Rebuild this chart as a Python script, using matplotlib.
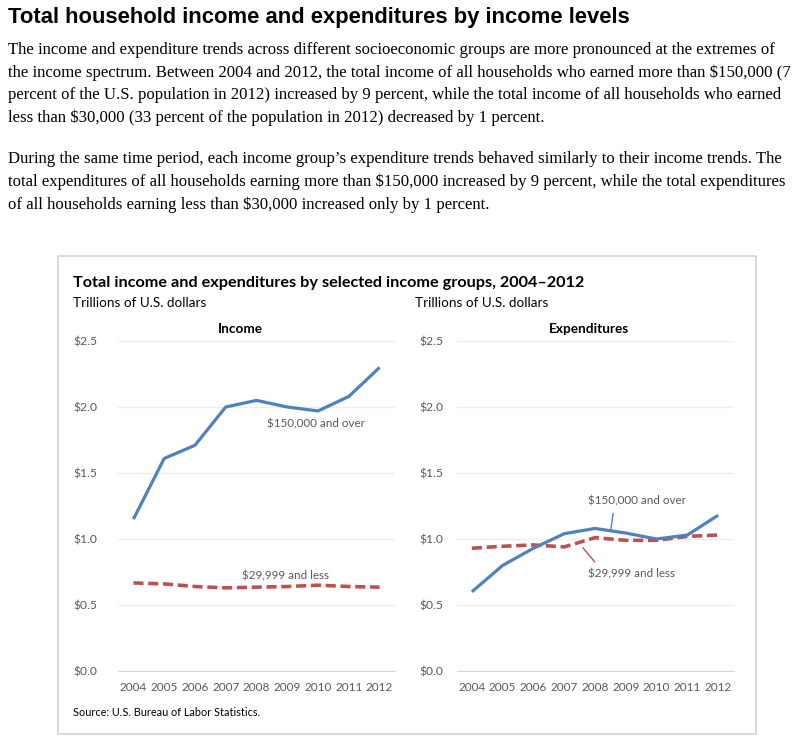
import matplotlib
matplotlib.use("Agg")
import matplotlib.pyplot as plt
from matplotlib.patches import Rectangle

# data (trillions of U.S. dollars)
years = [2004, 2005, 2006, 2007, 2008, 2009, 2010, 2011, 2012]
income_high = [1.15, 1.61, 1.71, 2.00, 2.05, 2.00, 1.97, 2.08, 2.30]
income_low = [0.667, 0.66, 0.64, 0.63, 0.635, 0.64, 0.65, 0.64, 0.635]
exp_high = [0.60, 0.80, 0.93, 1.04, 1.08, 1.045, 1.00, 1.03, 1.18]
exp_low = [0.93, 0.945, 0.955, 0.94, 1.01, 0.99, 0.99, 1.02, 1.03]
yticks = [0.0, 0.5, 1.0, 1.5, 2.0, 2.5]

blue = "#4f81bd"
red = "#c0504d"
grey_txt = "#595959"
chart_font = ["Lato", "DejaVu Sans"]

W, H = 800, 746
fig = plt.figure(figsize=(W / 100, H / 100), dpi=100)


def fx(px):
    return px / W


def fy(py):
    return 1 - py / H


# header text
fig.text(fx(8), fy(18), "Total household income and expenditures by income levels",
         family="Liberation Sans", weight="bold", fontsize=15.8, va="center")
para1 = ["The income and expenditure trends across different socioeconomic groups are more pronounced at the extremes of",
         "the income spectrum. Between 2004 and 2012, the total income of all households who earned more than $150,000 (7",
         "percent of the U.S. population in 2012) increased by 9 percent, while the total income of all households who earned",
         "less than $30,000 (33 percent of the population in 2012) decreased by 1 percent."]
para2 = ["During the same time period, each income group\u2019s expenditure trends behaved similarly to their income trends. The",
         "total expenditures of all households earning more than $150,000 increased by 9 percent, while the total expenditures",
         "of all households earning less than $30,000 increased only by 1 percent."]
for i, line in enumerate(para1):
    fig.text(fx(8), fy(50 + i * 22.7), line, family="Liberation Serif", fontsize=12.1, va="center")
for i, line in enumerate(para2):
    fig.text(fx(8), fy(159 + i * 22.7), line, family="Liberation Serif", fontsize=12.1, va="center")

# chart frame
fig.patches.append(Rectangle((fx(58), fy(734)), fx(756) - fx(58), fy(256) - fy(734),
                             transform=fig.transFigure, fill=False, edgecolor="#d4d4d4", lw=1.2))

fig.text(fx(73), fy(283), "Total income and expenditures by selected income groups, 2004\u20132012",
         family=chart_font, weight="bold", fontsize=11.7, va="center")
fig.text(fx(73), fy(303), "Trillions of U.S. dollars", family=chart_font, fontsize=9.7, va="center")
fig.text(fx(415), fy(303), "Trillions of U.S. dollars", family=chart_font, fontsize=9.7, va="center")
fig.text(fx(73), fy(713), "Source: U.S. Bureau of Labor Statistics.", family=chart_font, fontsize=7.8, va="center")

ax1 = fig.add_axes([fx(118), fy(671), fx(277), 330 / H])
ax2 = fig.add_axes([fx(456.5), fy(671), fx(277), 330 / H])

panels = [(ax1, income_high, income_low, "Income", 240, 21),
          (ax2, exp_high, exp_low, "Expenditures", 589, 13)]
for ax, high, low, name, tx, ypad in panels:
    x = range(len(years))
    ax.plot(x, high, color=blue, lw=2.3, solid_capstyle="butt", zorder=3)
    ax.plot(x, low, color=red, lw=2.6, dashes=(2.8, 1.3), zorder=2)
    ax.set_xlim(-0.5, len(years) - 0.5)
    ax.set_ylim(0, 2.5)
    ax.set_yticks(yticks)
    ax.set_yticklabels([f"${v:.1f}" for v in yticks])
    ax.set_xticks(list(x))
    ax.set_xticklabels([str(y) for y in years])
    ax.grid(axis="y", color="#eeeeee", lw=1)
    ax.set_axisbelow(True)
    for s in ["top", "right", "left"]:
        ax.spines[s].set_visible(False)
    ax.spines["bottom"].set_color("#d9d9d9")
    ax.tick_params(axis="y", length=0, pad=ypad * 0.72, labelcolor=grey_txt, labelsize=8.7)
    ax.tick_params(axis="x", length=0, pad=8, labelcolor=grey_txt, labelsize=8.5)
    for lab in ax.get_xticklabels() + ax.get_yticklabels():
        lab.set_family(chart_font)
    ax.patch.set_alpha(0)
    fig.text(fx(tx), fy(329), name, family=chart_font, weight="bold", fontsize=9.8,
             ha="center", va="center")

# annotations
fig.text(fx(316), fy(424), "$150,000 and over", family=chart_font, fontsize=8.4,
         color=grey_txt, ha="center", va="center")
fig.text(fx(285), fy(576), "$29,999 and less", family=chart_font, fontsize=8.4,
         color=grey_txt, ha="center", va="center")
fig.text(fx(637), fy(501), "$150,000 and over", family=chart_font, fontsize=8.4,
         color=grey_txt, ha="center", va="center")
fig.text(fx(631), fy(574), "$29,999 and less", family=chart_font, fontsize=8.4,
         color=grey_txt, ha="center", va="center")
ax2.annotate("", xy=(4.5, exp_high[4] - 0.035), xytext=(4.6, 1.215),
             arrowprops=dict(arrowstyle="-", color=blue, lw=1))
ax2.annotate("", xy=(3.55, 0.95), xytext=(4.05, 0.81),
             arrowprops=dict(arrowstyle="-", color=red, lw=1))

fig.savefig("out.png", dpi=100)
